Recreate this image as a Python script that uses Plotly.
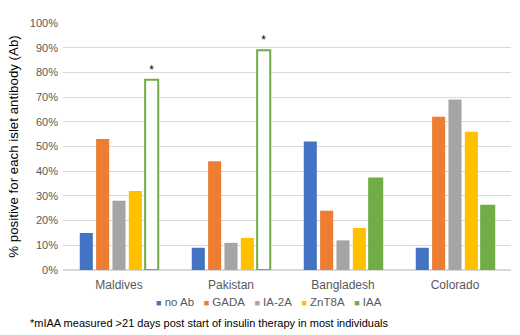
import plotly.graph_objects as go

categories = ["Maldives", "Pakistan", "Bangladesh", "Colorado"]
series_names = ["no Ab", "GADA", "IA-2A", "ZnT8A", "IAA"]
no_ab = [15, 9, 52, 9]
gada = [53, 44, 24, 62]
ia2a = [28, 11, 12, 69]
znt8a = [32, 13, 17, 56]
iaa = [77, 89, 37, 26]
iaa_flag = ["*", "*", "", ""]  # mIAA measured >21 days post insulin start
y_ticks = [0, 10, 20, 30, 40, 50, 60, 70, 80, 90, 100]

colors = ["#4472C4", "#ED7D31", "#A5A5A5", "#FFC000", "#70AD47"]
values = [no_ab, gada, ia2a, znt8a, iaa]

fig = go.Figure()
for name, vals, col in zip(series_names, values, colors):
    if name == "IAA":
        fills = ["white" if f else col for f in iaa_flag]
        fig.add_trace(go.Bar(
            x=categories, y=vals, name=name,
            marker=dict(color=fills, line=dict(color=col, width=2)),
            text=iaa_flag, textposition="outside", cliponaxis=False,
            textfont=dict(size=12, color="black"),
        ))
    else:
        fig.add_trace(go.Bar(
            x=categories, y=vals, name=name,
            marker=dict(color=col, line=dict(width=0)),
        ))

# compact legend built from series names / colours
legend_text = "&nbsp;&nbsp;&nbsp;".join(
    f"<span style='color:{c};font-size:9px'>■</span>&nbsp;{n}" for n, c in zip(series_names, colors)
)

fig.update_layout(
    width=520, height=335,
    margin=dict(l=63, r=9, t=23, b=65, autoexpand=False),
    paper_bgcolor="white", plot_bgcolor="white",
    font=dict(family="Liberation Sans, Arial, sans-serif", size=12, color="#595959"),
    barmode="group", bargap=0.27, bargroupgap=0.2,
    showlegend=False,
    annotations=[
        dict(text=legend_text, xref="paper", yref="paper", x=0.46, y=-0.13,
             xanchor="center", yanchor="middle", showarrow=False,
             font=dict(size=11.5, color="#595959")),
        dict(text="*mIAA measured >21 days post start of insulin therapy in most individuals",
             xref="paper", yref="paper", x=-0.078, y=-0.215, xanchor="left", yanchor="middle",
             showarrow=False, font=dict(size=11, color="black")),
    ],
)
fig.update_xaxes(showgrid=False, showline=False, ticks="", tickfont=dict(size=12),
                 automargin=False, ticklabelstandoff=6)
fig.update_yaxes(
    range=[0, 100], tickvals=y_ticks, ticktext=[f"{v}%" for v in y_ticks],
    showgrid=True, gridcolor="#D9D9D9", zeroline=True, zerolinecolor="#D9D9D9",
    tickfont=dict(size=11), automargin=False, ticklabelstandoff=4,
    title=dict(text="% positive for each islet antibody (Ab)", standoff=8,
               font=dict(size=13.3, color="black")),
)

fig.write_html("out.html", config={"displayModeBar": False},
               post_script="document.body.style.margin='0';document.body.style.overflow='hidden';")
